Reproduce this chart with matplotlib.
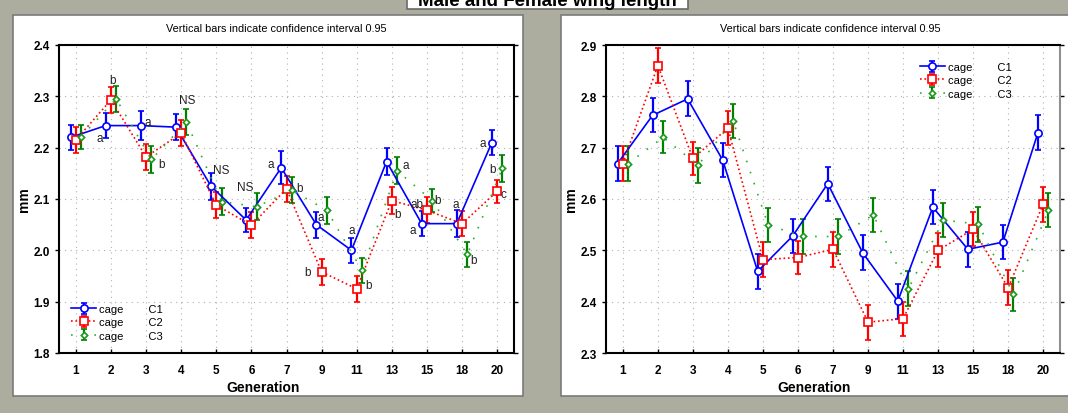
import matplotlib
matplotlib.use("Agg")
import matplotlib.pyplot as plt
from matplotlib.patches import Rectangle
import numpy as np

plt.rcParams['font.family'] = ['Liberation Sans', 'DejaVu Sans']

# Datos
generations = ['1', '2', '3', '4', '5', '6', '7', '9', '11', '13', '15', '18', '20']
cages = ['C1', 'C2', 'C3']

# panel izquierdo (mm)
left_c1 = [2.220, 2.243, 2.243, 2.240, 2.125, 2.059, 2.161, 2.050, 2.000, 2.173, 2.052, 2.052, 2.210]
left_c2 = [2.215, 2.293, 2.182, 2.228, 2.088, 2.049, 2.120, 1.958, 1.925, 2.097, 2.078, 2.052, 2.115]
left_c3 = [2.221, 2.295, 2.177, 2.250, 2.095, 2.085, 2.117, 2.078, 1.961, 2.155, 2.097, 1.992, 2.160]
left_ci_c1 = [0.025, 0.025, 0.028, 0.025, 0.026, 0.024, 0.032, 0.025, 0.025, 0.026, 0.025, 0.026, 0.025]
left_ci_c2 = [0.025, 0.025, 0.026, 0.025, 0.025, 0.025, 0.025, 0.025, 0.025, 0.026, 0.025, 0.025, 0.022]
left_ci_c3 = [0.024, 0.025, 0.027, 0.025, 0.026, 0.026, 0.025, 0.026, 0.025, 0.026, 0.023, 0.025, 0.026]

# panel derecho (mm)
right_c1 = [2.669, 2.763, 2.795, 2.676, 2.459, 2.528, 2.630, 2.495, 2.401, 2.584, 2.502, 2.516, 2.729]
right_c2 = [2.669, 2.860, 2.679, 2.738, 2.482, 2.486, 2.502, 2.360, 2.367, 2.500, 2.541, 2.427, 2.590]
right_c3 = [2.669, 2.720, 2.666, 2.752, 2.549, 2.527, 2.527, 2.569, 2.425, 2.559, 2.551, 2.414, 2.578]
right_ci_c1 = [0.034, 0.033, 0.034, 0.033, 0.034, 0.034, 0.033, 0.034, 0.034, 0.033, 0.034, 0.033, 0.034]
right_ci_c2 = [0.034, 0.034, 0.033, 0.033, 0.034, 0.033, 0.034, 0.034, 0.033, 0.033, 0.033, 0.034, 0.034]
right_ci_c3 = [0.034, 0.031, 0.034, 0.033, 0.033, 0.034, 0.034, 0.033, 0.034, 0.033, 0.034, 0.032, 0.033]

# letras de significancia (panel izquierdo): texto, posicion x (indice), y
left_letters = [
    ('a', 0.68, 2.218), ('b', 1.04, 2.332),
    ('a', 2.05, 2.250), ('b', 2.43, 2.169),
    ('NS', 3.18, 2.293), ('NS', 4.14, 2.156), ('NS', 4.83, 2.123),
    ('a', 5.54, 2.169), ('b', 6.37, 2.122),
    ('a', 6.98, 2.064), ('b', 6.60, 1.958),
    ('a', 7.86, 2.040), ('b', 8.33, 1.932),
    ('a', 9.39, 2.167), ('b', 9.16, 2.071),
    ('ab', 9.73, 2.091), ('b', 10.29, 2.099), ('a', 9.61, 2.039),
    ('a', 10.81, 2.091), ('b', 11.33, 1.981),
    ('a', 11.60, 2.210), ('b', 11.88, 2.158), ('c', 12.18, 2.109),
]

W, H = 1068, 414
bg = '#adad9f'
fig = plt.figure(figsize=(W / 100, H / 100), dpi=100, facecolor=bg)


def px(x0, y0, x1, y1):
    # caja en pixeles (origen arriba) -> fraccion de figura
    return [x0 / W, 1 - y1 / H, (x1 - x0) / W, (y1 - y0) / H]


# paneles blancos
for box in [(13, 16, 523, 397), (561, 16, 1080, 397)]:
    r = px(*box)
    fig.add_artist(Rectangle((r[0], r[1]), r[2], r[3], transform=fig.transFigure,
                             facecolor='white', edgecolor='#7a7a7a', lw=1.2, zorder=-2))

# caja del titulo (cortada arriba)
r = px(407, -20, 688, 10)
fig.add_artist(Rectangle((r[0], r[1]), r[2], r[3], transform=fig.transFigure,
                         facecolor='white', edgecolor='#6a6a6a', lw=1.2, zorder=1))
fig.text(547 / W, 1 - 6 / H, 'Male and Female wing length', ha='center', va='baseline',
         fontsize=13.5, fontweight='bold', zorder=2)

styles = [
    dict(color='#0000ff', ecolor='#0000ff', ls='-', marker='o', ms=5.2, dx=-0.15, lc='#0000ff'),
    dict(color='#ff0000', ecolor='#ff0000', ls=':', marker='s', ms=5.8, dx=0.0, lc='#ff0000'),
    dict(color='#1a9a1a', ecolor='#008000', ls=(0, (1, 6)), marker='D', ms=3.2, dx=0.15, lc='#2db02d'),
]


def draw_panel(rect, means, cis, ylim, legend_anchor, legend_loc, title_x, label_x):
    ax = fig.add_axes(rect)
    ax.set_zorder(3)
    x = np.arange(len(generations))
    handles = []
    for m, c, st, cage in zip(means, cis, styles, cages):
        h = ax.errorbar(x + st['dx'], m, yerr=c, color=st['lc'], ecolor=st['ecolor'],
                        ls=st['ls'], lw=1.2, marker=st['marker'], ms=st['ms'],
                        mfc='white', mec=st['color'], mew=1.2,
                        elinewidth=1.6, capsize=2, capthick=1.2,
                        label='cage        ' + cage, zorder=3)
        handles.append(h)
    ax.set_xlim(-0.48, 12.48)
    ax.set_ylim(*ylim)
    ax.set_xticks(x)
    ax.set_xticklabels(generations, fontsize=8.5, fontweight='bold')
    yt = np.round(np.arange(ylim[0], ylim[1] + 0.001, 0.1), 1)
    ax.set_yticks(yt)
    ax.set_yticklabels(['%.1f' % v for v in yt], fontsize=8.5, fontweight='bold')
    ax.tick_params(axis='y', direction='out', length=3, right=True, width=1)
    ax.tick_params(axis='x', direction='in', length=3, width=1)
    ax.tick_params(axis='x', pad=8)
    ax.grid(True, ls=(0, (1, 4)), color='#b0b0b0', lw=0.8)
    for s in ax.spines.values():
        s.set_linewidth(1.5)
    ax.set_xlabel('Generation', fontsize=10, fontweight='bold', labelpad=3, x=label_x)
    ax.set_ylabel('mm', fontsize=10, fontweight='bold', labelpad=2)
    ax.set_title('Vertical bars indicate confidence interval 0.95', fontsize=7.8, pad=10, x=title_x)
    ax.legend(handles=handles, loc=legend_loc, bbox_to_anchor=legend_anchor, frameon=False,
              fontsize=8, handlelength=2.2, labelspacing=0.3, borderpad=0, handletextpad=0.3)
    return ax


axl = draw_panel(px(59, 46, 514, 354), [left_c1, left_c2, left_c3],
                 [left_ci_c1, left_ci_c2, left_ci_c3], (1.8, 2.4), (0.015, 0.022), 'lower left',
                 0.477, 0.448)
for t, xx, yy in left_letters:
    axl.text(xx, yy, t, fontsize=8.5, color='#222222', ha='center', va='center', zorder=4)

axr = draw_panel(px(606, 46, 1060, 354), [right_c1, right_c2, right_c3],
                 [right_ci_c1, right_ci_c2, right_ci_c3], (2.3, 2.9), (0.68, 0.963), 'upper left',
                 0.493, 0.458)
axr.spines['right'].set_color('#909090')

fig.savefig('out.png', dpi=100, facecolor=bg)
